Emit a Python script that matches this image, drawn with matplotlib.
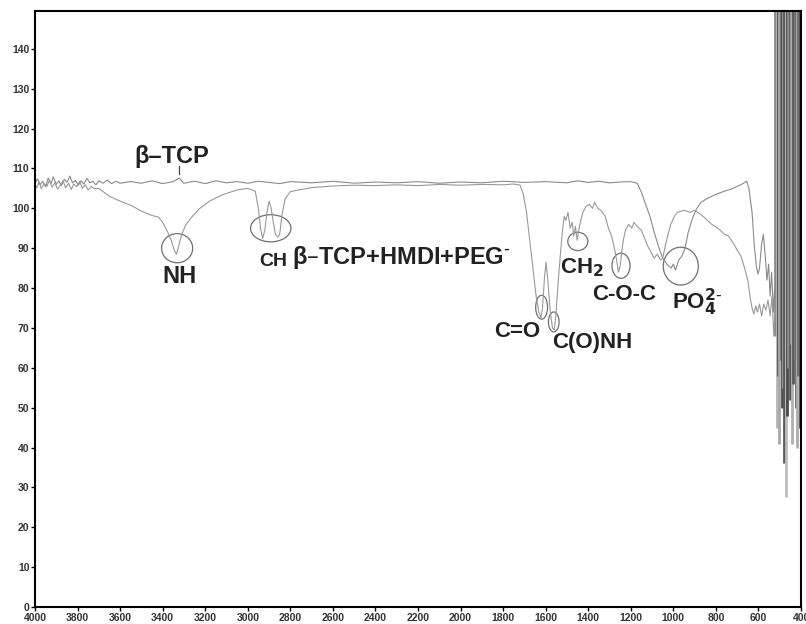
import matplotlib.pyplot as plt
from matplotlib.patches import Ellipse

# wavenumber (cm-1) and transmittance
tcp_wn = [4000, 3988, 3976, 3964, 3950, 3938, 3925, 3914, 3900, 3888, 3876, 3862, 3850, 3836,
          3824, 3810, 3796, 3784, 3770, 3756, 3742, 3728, 3714, 3700, 3680, 3660, 3640, 3620,
          3600, 3550, 3500, 3450, 3400, 3350, 3322, 3300, 3250, 3200, 3150, 3100, 3050, 3000,
          2950, 2900, 2850, 2800, 2700, 2600, 2500, 2400, 2300, 2200, 2100, 2000, 1900, 1800,
          1700, 1600, 1500, 1450, 1400, 1350, 1300, 1250, 1200, 1170, 1150, 1130, 1110, 1090,
          1070, 1050, 1030, 1010, 1000, 990, 975, 960, 945, 930, 910, 890, 870, 840, 800, 760,
          720, 680, 655, 645, 630, 620, 610, 602, 595, 585, 577, 568, 560, 552, 545, 538, 530, 524]
tcp_t = [106.3, 107.4, 105.9, 106.8, 105.4, 107.6, 106.2, 107.9, 106.0, 106.9, 105.7, 107.3, 106.5, 108.1,
         106.4, 107.0, 105.8, 106.9, 106.1, 107.5, 106.4, 106.8, 105.9, 106.9, 106.3, 107.1, 106.2, 106.8,
         106.3, 106.7, 106.3, 106.9, 106.2, 106.7, 107.6, 106.3, 106.8, 106.2, 106.9, 106.4, 106.7, 106.3,
         106.8, 106.5, 106.2, 106.7, 106.4, 106.8, 106.3, 106.6, 106.4, 106.7, 106.3, 106.6, 106.4, 106.8,
         106.5, 106.7, 106.4, 106.9, 106.5, 106.8, 106.4, 106.6, 106.7, 106.3, 104.0, 101.0, 98.0, 94.0,
         90.5, 87.5, 86.0, 85.0, 86.0, 84.5, 87.0, 88.0, 90.0, 94.0, 97.5, 100.0, 101.5, 102.5, 103.5, 104.3,
         105.0, 106.0, 106.8, 105.0, 99.0, 91.0, 85.5, 83.5, 85.0, 91.0, 93.5, 88.0, 82.0, 86.0, 78.0, 84.0,
         74.0, 80.0]

comp_wn = [4000, 3992, 3980, 3970, 3958, 3944, 3932, 3920, 3906, 3894, 3880, 3868, 3856, 3842,
           3830, 3818, 3804, 3790, 3778, 3764, 3750, 3736, 3720, 3700, 3680, 3650, 3600, 3550,
           3500, 3450, 3420, 3400, 3380, 3360, 3345, 3335, 3325, 3310, 3290, 3260, 3230, 3180,
           3120, 3050, 3000, 2965, 2950, 2940, 2930, 2920, 2910, 2900, 2890, 2880, 2870, 2858,
           2850, 2840, 2825, 2800, 2700, 2600, 2500, 2400, 2300, 2200, 2100, 2000, 1900, 1800,
           1750, 1720, 1705, 1690, 1675, 1660, 1645, 1632, 1622, 1615, 1605, 1598, 1590, 1578,
           1568, 1560, 1552, 1542, 1530, 1520, 1512, 1505, 1495, 1485, 1475, 1468, 1460, 1452,
           1445, 1435, 1425, 1410, 1395, 1380, 1370, 1355, 1340, 1320, 1305, 1290, 1275, 1265,
           1258, 1250, 1243, 1235, 1225, 1210, 1195, 1185, 1170, 1150, 1135, 1120, 1105, 1090,
           1075, 1060, 1050, 1040, 1025, 1012, 995, 980, 950, 920, 900, 880, 860, 840, 820, 790,
           760, 740, 715, 700, 682, 665, 650, 640, 630, 622, 612, 605, 595, 585, 575, 565, 555,
           545, 536, 528, 521]
comp_t = [106.0, 105.1, 106.6, 104.9, 106.2, 105.5, 107.1, 105.3, 106.4, 104.8, 105.9, 106.9, 105.2, 106.3,
          104.7, 106.1, 105.4, 106.8, 105.0, 105.9, 104.6, 105.5, 104.9, 105.0, 104.2, 103.0, 101.8, 100.8,
          99.3, 98.2, 97.8, 96.5, 94.5, 92.0, 89.5, 88.5, 90.5, 93.5, 96.0, 98.0, 99.8, 101.8,
          103.4, 104.6, 105.0, 104.3, 100.0, 95.0, 92.5, 94.5, 99.0, 101.8, 100.0, 96.5, 93.5, 92.8,
          93.5, 98.0, 102.3, 104.2, 105.2, 105.6, 105.8, 105.7, 105.9, 105.7, 106.0, 105.8, 106.0, 105.9,
          106.1, 105.8, 103.5, 99.0, 92.0, 85.0, 78.0, 74.0, 72.5, 75.0, 83.0, 86.5, 82.0, 74.0,
          70.0, 69.5, 73.0, 81.0, 89.0, 95.0, 98.0, 97.0, 99.0, 95.0, 96.5, 93.0, 95.5, 92.0,
          94.5, 97.0, 99.0, 100.5, 101.0, 100.0, 101.5, 100.0, 99.5, 98.0, 95.0, 93.0, 89.5, 86.5,
          84.0, 85.5, 89.0, 92.0, 94.5, 96.0, 95.0, 96.5, 95.5, 94.5, 92.5, 90.5, 89.0, 87.5,
          88.5, 87.0, 87.5, 90.0, 93.5, 96.0, 98.0, 99.0, 99.5, 99.0, 99.5, 98.8, 98.0, 97.0, 96.0, 95.0,
          93.5, 93.0, 91.0, 89.5, 88.0, 85.0, 82.0, 78.0, 75.0, 73.5, 75.5, 74.0, 76.0, 73.0, 76.0, 74.5,
          77.0, 73.0, 78.0, 68.0, 75.0]

# noisy detector region: strokes running from the top of the plot down to these values
stroke_wn = [520, 514, 508, 502, 496, 490, 484, 478, 472, 466, 460, 454, 448, 442,
             436, 430, 424, 418, 412, 406]
stroke_low = [68, 45, 58, 41, 62, 50, 55, 36, 27.5, 48, 60, 52, 66, 41,
              56, 62, 50, 40, 58, 45]
stroke_grey = ['#8a8a8a', '#b4b4b4', '#555555', '#a8a8a8', '#6e6e6e', '#4e4e4e', '#9a9a9a',
               '#5a5a5a', '#bcbcbc', '#4a4a4a', '#8c8c8c', '#5c5c5c', '#9c9c9c', '#b0b0b0',
               '#585858', '#7c7c7c', '#666666', '#acacac', '#707070', '#505050']

# band annotations: label, font size, text position, ellipse centre and size
bands = [
    ("NH", 17, (3322, 82.8), (3332, 90.0), 146, 7.3),
    ("CH", 14, (2880, 86.7), (2892, 95.0), 190, 6.8),
    ("C=O", 16, (1732, 69.0), (1619, 75.2), 56, 6.0),
    ("C(O)NH", 16, (1379, 66.4), (1562, 71.5), 50, 5.0),
    ("CH$_2$", 16, (1430, 85.0), (1449, 91.7), 94, 4.6),
    ("C-O-C", 16, (1233, 78.4), (1246, 85.6), 85, 6.3),
    ("PO$_4^{2\\text{-}}$", 16, (890, 76.5), (965, 85.5), 165, 9.5),
]

plt.rcParams['font.family'] = ['Liberation Sans', 'DejaVu Sans']
plt.rcParams['mathtext.default'] = 'bf'

fig = plt.figure(figsize=(8.06, 6.24), dpi=100)
ax = fig.add_axes([35 / 806, 17 / 624, 766 / 806, 596 / 624])

ax.vlines(stroke_wn, stroke_low, 150, colors=stroke_grey, lw=2.0)
ax.plot(tcp_wn, tcp_t, color='#8a8a8a', lw=0.8)
ax.plot(comp_wn, comp_t, color='#999999', lw=0.8)

for name, fs, txt, c, w, h in bands:
    ax.add_patch(Ellipse(c, w, h, fill=False, edgecolor='#707070', lw=0.9))
    ax.text(txt[0], txt[1], name, fontsize=fs, fontweight='bold', ha='center', va='center',
            color='#222222')

ax.text(3355, 113, "β–TCP", fontsize=17, fontweight='bold', ha='center', va='center', color='#222222')
ax.plot([3322, 3322], [108.6, 110.6], color='#444444', lw=0.9)
ax.text(2790, 87.7, "β–TCP+HMDI+PEG$^{\\text{-}}$", fontsize=17, fontweight='bold', ha='left',
        va='center', color='#222222')

ax.set_xlim(4000, 400)
ax.set_ylim(0, 149.5)
ax.set_xticks(range(4000, 399, -200))
ax.set_yticks(range(0, 141, 10))
ax.tick_params(labelsize=7.5, length=3, width=1, pad=1, labelcolor='#333333')
for lab in ax.get_xticklabels() + ax.get_yticklabels():
    lab.set_fontweight('bold')
for s in ax.spines.values():
    s.set_linewidth(1.5)

fig.savefig("out.png")
